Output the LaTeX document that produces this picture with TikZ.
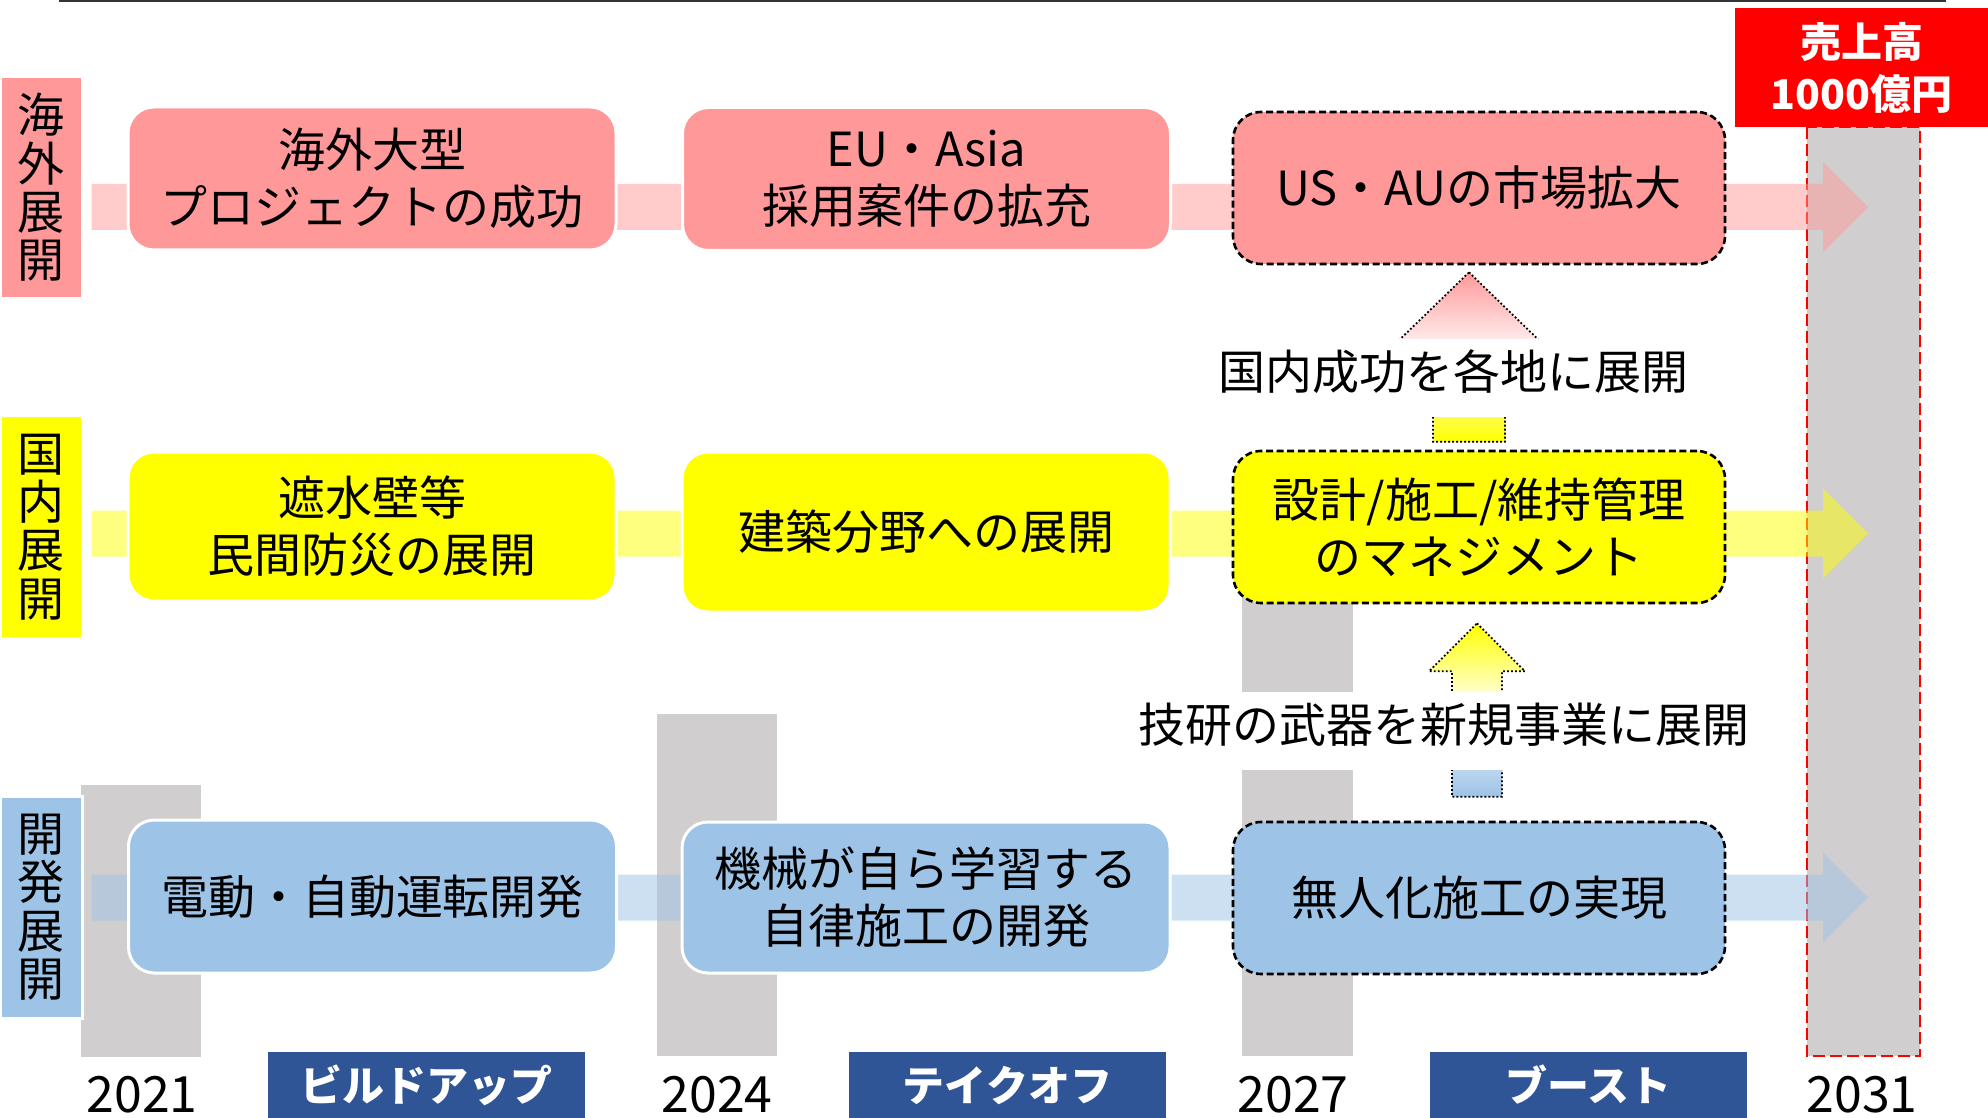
\documentclass[tikz,border=0pt]{standalone}
\usepackage{fontspec}
\setmainfont{Noto Sans CJK JP}
\usetikzlibrary{calc}
\definecolor{pk}{HTML}{FF9999}
\definecolor{yl}{HTML}{FFFF00}
\definecolor{bl}{HTML}{9DC3E6}
\definecolor{gy}{HTML}{D0CECE}
\definecolor{nv}{HTML}{2F5597}
\definecolor{rd}{HTML}{FF0000}
\newcommand\fsMain{\fontsize{23.5pt}{28.5pt}\selectfont}
\newcommand\fsLab{\fontsize{23.5pt}{24.2pt}\selectfont}
\newcommand\fsYear{\fontsize{25pt}{30pt}\selectfont}
\newcommand\fsPhase{\fontsize{21pt}{25pt}\selectfont\bfseries}
\newcommand\fsRed{\fontsize{20.5pt}{26pt}\selectfont\bfseries}
\newcommand\bandarrow[3]{%
  \fill[#1,fill opacity=0.5] ($(#2)+(0,-23)$) -- ($(#3)+(-45,-23)$) -- ($(#3)+(-45,-45)$) -- (#3) -- ($(#3)+(-45,45)$) -- ($(#3)+(-45,23)$) -- ($(#2)+(0,23)$) -- cycle;}
\newcommand\vblock[7]{%
  \shadedraw[vblk,top color=#6,bottom color=#7,middle color=white] (#1) -- ($(#1)+(#4,#5)$) -- ($(#1)+(#3,#5)$) -- ($(#2)+(#3,0)$) -- ($(#2)+(-#3,0)$) -- ($(#1)+(-#3,#5)$) -- ($(#1)+(-#4,#5)$) -- cycle;}
\begin{document}
\begin{tikzpicture}[x=0.5pt,y=-0.5pt,
  lab/.style={rectangle,draw=white,line width=1.5pt,minimum width=41pt,minimum height=111pt,inner sep=0pt,align=center,font=\fsLab},
  box/.style={rectangle,rounded corners=13pt,draw=white,line width=1.5pt,minimum width=244pt,inner sep=0pt,align=center,font=\fsMain},
  dbox/.style={rectangle,rounded corners=14pt,draw=black,line width=1.3pt,dash pattern=on 3.5pt off 1.8pt,minimum width=246pt,minimum height=76pt,inner sep=0pt,align=center,font=\fsMain},
  vblk/.style={draw=black,line width=0.9pt,dash pattern=on 0.9pt off 1.1pt},
  note/.style={fill=white,inner xsep=6pt,inner ysep=0pt,text height=25pt,text depth=14pt,font=\fsMain},
  year/.style={inner sep=0pt,font=\fsYear},
  phase/.style={fill=nv,text=white,minimum width=158.5pt,minimum height=33pt,inner sep=0pt,font=\fsPhase},
  bar/.style={fill=gy}]

\useasboundingbox (0,0) rectangle (1988,1118);
\fill[white] (0,0) rectangle (1988,1118);

\draw[line width=1pt,black!80] (59,1) -- (1946,1);

% year columns
\fill[bar] (81,785) rectangle (201,1057);
\fill[bar] (657,714) rectangle (777,1056);
\fill[bar] (1242,590) rectangle (1353,1056);
\filldraw[bar,draw=rd,line width=1.3pt,dash pattern=on 6pt off 2.5pt] (1807,127) rectangle (1920,1056);

% row labels
\node[lab,fill=pk] (L1) at (41,187.5) {海\\外\\展\\開};
\node[lab,fill=yl] (L2) at (41,527) {国\\内\\展\\開};
\node[lab,fill=bl] (L3) at (41,907) {開\\発\\展\\開};

% row arrows
\coordinate (Ae) at (1868,207);
\coordinate (Be) at (1868,533.5);
\coordinate (Ce) at (1868,897.5);
\coordinate (As) at ($(L1.east |- Ae)+(8,0)$);
\coordinate (Bs) at ($(L2.east |- Be)+(8,0)$);
\coordinate (Cs) at ($(L3.east |- Ce)+(8,0)$);
\bandarrow{pk}{As}{Ae}
\bandarrow{yl}{Bs}{Be}
\bandarrow{bl}{Cs}{Ce}

% boxes
\node[box,fill=pk,minimum height=71.5pt] (A1) at (372,178.5) {海外大型\\プロジェクトの成功};
\node[box,fill=pk,minimum height=71.5pt] (A2) at (926.5,179) {EU・Asia\\採用案件の拡充};
\node[dbox,fill=pk] (A3) at (1479,188) {US・AUの市場拡大};
\node[box,fill=yl,minimum height=74.5pt] (B1) at (372,526.5) {遮水壁等\\民間防災の展開};
\node[box,fill=yl,minimum height=80pt] (B2) at (926,532) {建築分野への展開};
\node[dbox,fill=yl] (B3) at (1479,527) {設計/施工/維持管理\\のマネジメント};
\node[box,fill=bl,minimum height=76.5pt] (C1) at (372.5,896.5) {電動・自動運転開発};
\node[box,fill=bl,minimum height=75.5pt] (C2) at (926,897.5) {機械が自ら学習する\\自律施工の開発};
\node[dbox,fill=bl] (C3) at (1479,898) {無人化施工の実現};

% vertical block arrows
\coordinate (V1t) at ($(A3.south)+(-10,7)$);
\coordinate (V1b) at ($(B3.north)+(-10,-8)$);
\vblock{V1t}{V1b}{36}{70}{68}{pk}{yl}
\coordinate (V2t) at ($(B3.south)+(-2,19)$);
\coordinate (V2b) at ($(C3.north)+(-2,-24)$);
\vblock{V2t}{V2b}{25}{48}{48}{yl}{bl}

\node[note] (T1) at (1453,378.5) {国内成功を各地に展開};
\node[note] (T2) at (1444,731) {技研の武器を新規事業に展開};

% target
\node[fill=rd,text=white,minimum width=126.5pt,minimum height=59.5pt,inner sep=0pt,align=center,font=\fsRed] (R) at (1861.5,67.5) {売上高\\1000億円};

% years
\node[year] (Y1) at (142,1095) {2021};
\node[year] (Y2) at (717,1095) {2024};
\node[year] (Y3) at (1293,1095) {2027};
\node[year] (Y4) at (1862,1095) {2031};

% phases
\node[phase] (P1) at (426.5,1085) {ビルドアップ};
\node[phase] (P2) at (1007.5,1085) {テイクオフ};
\node[phase] (P3) at (1588.5,1085) {ブースト};
\end{tikzpicture}
\end{document}
